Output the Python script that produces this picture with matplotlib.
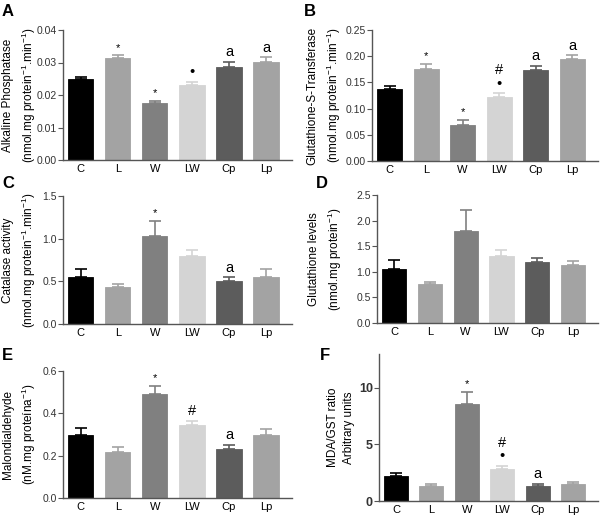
import numpy as np
import matplotlib.pyplot as plt

plt.rcParams['font.family'] = ['Liberation Sans', 'DejaVu Sans']
plt.rcParams['mathtext.fontset'] = 'custom'
plt.rcParams['mathtext.rm'] = 'Liberation Sans'
plt.rcParams['mathtext.it'] = 'Liberation Sans:italic'
plt.rcParams['mathtext.bf'] = 'Liberation Sans:bold'

# Groupes
groups = ["C", "L", "W", "LW", "Cp", "Lp"]
colors = ["#000000", "#a3a3a3", "#808080", "#d4d4d4", "#5c5c5c", "#a3a3a3"]

# Données (moyenne, erreur)
alp = [0.0248, 0.0314, 0.0175, 0.0232, 0.0285, 0.0303]
alp_err = [0.0006, 0.0008, 0.0007, 0.0008, 0.0017, 0.0013]
gst = [0.137, 0.176, 0.069, 0.123, 0.173, 0.195]
gst_err = [0.007, 0.010, 0.010, 0.006, 0.009, 0.007]
cat = [0.55, 0.43, 1.03, 0.80, 0.50, 0.545]
cat_err = [0.10, 0.035, 0.18, 0.07, 0.045, 0.095]
gsh = [1.06, 0.77, 1.79, 1.30, 1.20, 1.13]
gsh_err = [0.17, 0.04, 0.42, 0.12, 0.07, 0.08]
mda = [0.300, 0.218, 0.492, 0.343, 0.230, 0.297]
mda_err = [0.033, 0.025, 0.037, 0.023, 0.022, 0.029]
ratio = [2.25, 1.34, 8.55, 2.85, 1.37, 1.54]
ratio_err = [0.27, 0.20, 1.12, 0.21, 0.14, 0.18]

# Marques de significativité
marks_a = ["", "*", "*", "•", "a", "a"]
marks_b = ["", "*", "*", "#\n•", "a", "a"]
marks_c = ["", "", "*", "", "a", ""]
marks_d = ["", "", "", "", "", ""]
marks_e = ["", "", "*", "#", "a", ""]
marks_f = ["", "", "*", "#\n•", "a", ""]

fig = plt.figure(figsize=(6, 5.17), dpi=100)
W, H = 600, 517

def add_ax(left, top, right, bottom):
    return fig.add_axes([left / W, 1 - bottom / H, (right - left) / W, (bottom - top) / H])

def draw_panel(ax, box, vals, errs, marks, ylim, ticks, fmt, ylabel, lab_x, letter, lpos,
               tick_fs=7.5, tick_w="normal"):
    x = np.arange(len(groups))
    for i in range(len(groups)):
        ax.bar(x[i], vals[i], width=0.68, color=colors[i], edgecolor=colors[i], linewidth=0.6, zorder=2)
        ax.errorbar(x[i], vals[i], yerr=[[0], [errs[i]]], color=colors[i], capsize=4.5,
                    elinewidth=1.2, capthick=1.2, zorder=1)
        if marks[i]:
            m = marks[i]
            top = vals[i] + errs[i] + ylim[1] * 0.02
            if m == "*":
                ax.text(x[i], top, m, ha="center", va="bottom", fontsize=8)
            else:
                ax.text(x[i], top, m, ha="center", va="bottom", fontsize=10.5, linespacing=0.95)
    ax.set_xlim(-0.48, 5.7)
    ax.set_ylim(*ylim)
    ax.set_yticks(ticks)
    ax.set_yticklabels([fmt.format(t) for t in ticks], fontsize=tick_fs, color="#333333",
                       fontweight=tick_w)
    ax.set_xticks(x)
    ax.set_xticklabels(groups, fontsize=8)
    for s in ["top", "right"]:
        ax.spines[s].set_visible(False)
    for s in ["left", "bottom"]:
        ax.spines[s].set_color("#555555")
        ax.spines[s].set_linewidth(1.0)
    ax.tick_params(axis="y", length=3.5, color="#555555", pad=1)
    ax.tick_params(axis="x", length=0, pad=3)
    ax.set_ylabel(ylabel, fontsize=8.5, linespacing=1.45)
    ax.yaxis.set_label_coords((lab_x - box[0]) / (box[2] - box[0]), 0.5)
    fig.text(lpos[0] / W, 1 - lpos[1] / H, letter, fontsize=12, fontweight="bold", va="center", ha="left")

box_a = (63, 30, 292, 160)
draw_panel(add_ax(*box_a), box_a, alp, alp_err, marks_a, (0, 0.04), [0, 0.01, 0.02, 0.03, 0.04], "{:.2f}",
           "Alkaline Phosphatase\n(nmol.mg protein$^{-1}$.min$^{-1}$)", 38, "A", (2, 12))

box_b = (372, 30, 598, 161)
draw_panel(add_ax(*box_b), box_b, gst, gst_err, marks_b, (0, 0.25), [0, 0.05, 0.10, 0.15, 0.20, 0.25], "{:.2f}",
           "Glutathione-S-Transferase\n(nmol.mg protein$^{-1}$.min$^{-1}$)", 343, "B", (304, 12))

box_c = (63, 196, 292, 324)
draw_panel(add_ax(*box_c), box_c, cat, cat_err, marks_c, (0, 1.5), [0, 0.5, 1.0, 1.5], "{:.1f}",
           "Catalase activity\n(nmol.mg protein$^{-1}$.min$^{-1}$)", 38, "C", (2, 184))

box_d = (377, 195, 598, 323)
draw_panel(add_ax(*box_d), box_d, gsh, gsh_err, marks_d, (0, 2.5), [0, 0.5, 1.0, 1.5, 2.0, 2.5], "{:.1f}",
           "Glutathione levels\n(nmol.mg protein$^{-1}$)", 344, "D", (316, 184))

box_e = (63, 371, 292, 498)
draw_panel(add_ax(*box_e), box_e, mda, mda_err, marks_e, (0, 0.6), [0, 0.2, 0.4, 0.6], "{:.1f}",
           "Malondialdehyde\n(nM.mg proteína$^{-1}$)", 38, "E", (2, 355))

box_f = (379, 354, 598, 501)
draw_panel(add_ax(*box_f), box_f, ratio, ratio_err, marks_f, (0, 13), [0, 5, 10], "{:.0f}",
           "MDA/GST ratio\nArbitrary units", 355, "F", (320, 355), tick_fs=9, tick_w="bold")

fig.savefig("out.png", dpi=100)
